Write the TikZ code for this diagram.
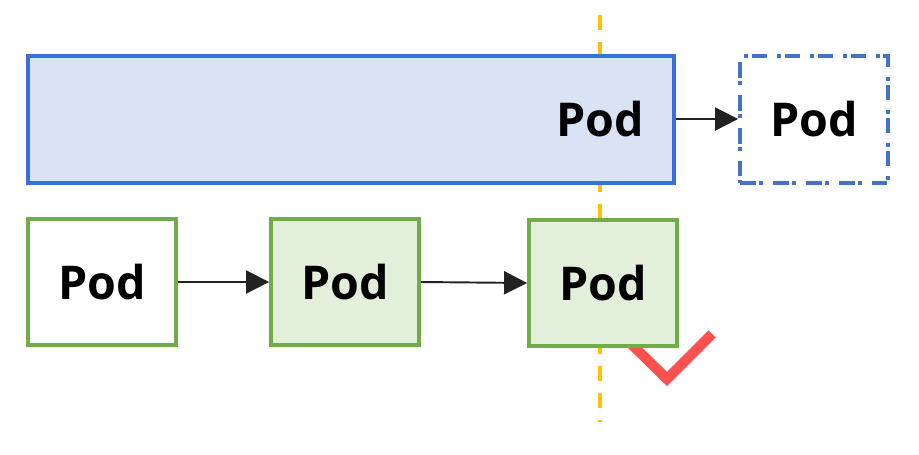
\documentclass[tikz,border=0pt]{standalone}
\usepackage{fontspec}
\setmainfont{Open Sans}
\usetikzlibrary{arrows.meta}
\definecolor{bstroke}{HTML}{3A6FE0}
\definecolor{bfill}{HTML}{DAE3F3}
\definecolor{ddash}{HTML}{4472C4}
\definecolor{gstroke}{HTML}{70AD47}
\definecolor{gfill}{HTML}{E2EFDA}
\definecolor{orng}{HTML}{FFC000}
\definecolor{chk}{HTML}{FF5050}
\definecolor{arr}{HTML}{222222}
\tikzset{
  podtext/.style={font=\bfseries\fontsize{26.5}{31}\selectfont, text=black},
  greenbox/.style={draw=gstroke, line width=2.2pt, minimum width=2.96cm, minimum height=2.52cm, inner sep=0pt, podtext},
  conn/.style={draw=arr, line width=1.1pt, -{Triangle[length=0.46cm,width=0.46cm]}},
}
\begin{document}
\begin{tikzpicture}[x=0.02cm,y=-0.02cm]
\useasboundingbox[fill=white] (0,0) rectangle (919,454);
% vertical guide line
\coordinate (gtop) at (600,15);
\coordinate (gbot) at (600,422);
\draw[orng, line width=2.2pt, dash pattern=on 0.3cm off 0.24cm] (gtop) -- (gbot);
% check mark (behind box)
\coordinate (c1) at (618,331);
\coordinate (c2) at (667,379);
\coordinate (c3) at (712,334);
\draw[chk, line width=5.8pt, line join=miter] (c1) -- (c2) -- (c3);
% top row
\node[draw=bstroke, fill=bfill, line width=2.2pt, minimum width=12.92cm, minimum height=2.54cm, inner sep=0pt] (big) at (351,119.5) {};
\node[podtext] (bigtext) at (600,119) {Pod};
\node[draw=ddash, line width=2.2pt, dash pattern=on 0.31cm off 0.07cm on 0.08cm off 0.2cm, minimum width=2.96cm, minimum height=2.54cm, inner sep=0pt, podtext] (next) at (814,119.5) {Pod};
% bottom row
\node[greenbox, fill=white] (p1) at (102,282) {Pod};
\node[greenbox, fill=gfill] (p2) at (345,282) {Pod};
\node[greenbox, fill=gfill] (p3) at (603,283) {Pod};
% connectors
\draw[conn] (big.east |- bigtext) -- (next.west |- bigtext);
\draw[conn] (p1.east) -- (p2.west);
\draw[conn] (p2.east) -- (p3.west);
\end{tikzpicture}
\end{document}
